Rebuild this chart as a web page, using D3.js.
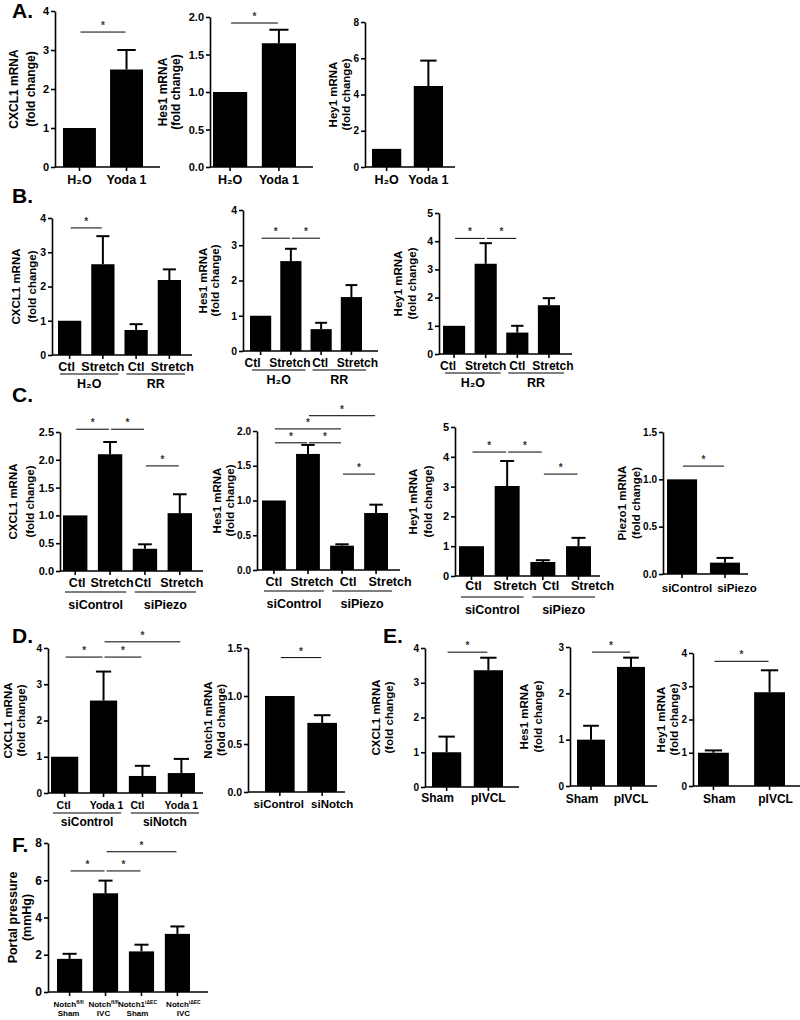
<!DOCTYPE html>
<html>
<head>
<meta charset="utf-8">
<script src="https://d3js.org/d3.v7.min.js"></script>
<style>
  body { margin: 0; background: #fff; }
  svg text { font-family: "Liberation Sans", Arial, sans-serif; font-weight: bold; }
</style>
</head>
<body>
<div id="fig"></div>
<script>
// ---- data (means and SEM) ----
const yodaCats = ["H₂O", "Yoda 1"];
const aCxcl1 = [1.0, 2.5],  aCxcl1Err = [0, 0.5];
const aHes1  = [1.0, 1.65], aHes1Err  = [0, 0.18];
const aHey1  = [1.0, 4.47], aHey1Err  = [0, 1.4];

const stretchCats = ["Ctl", "Stretch", "Ctl", "Stretch"];
const rrGroups = ["H₂O", "RR"];
const bCxcl1 = [1.0, 2.65, 0.73, 2.19], bCxcl1Err = [0, 0.82, 0.17, 0.31];
const bHes1  = [1.0, 2.55, 0.62, 1.53], bHes1Err  = [0, 0.35, 0.18, 0.34];
const bHey1  = [1.0, 3.2, 0.76, 1.73],  bHey1Err  = [0, 0.73, 0.24, 0.25];

const piezoGroups = ["siControl", "siPiezo"];
const cCxcl1 = [1.0, 2.1, 0.4, 1.04],  cCxcl1Err = [0, 0.22, 0.08, 0.34];
const cHes1  = [1.0, 1.67, 0.35, 0.82], cHes1Err = [0, 0.13, 0.02, 0.12];
const cHey1  = [1.0, 3.02, 0.47, 1.0],  cHey1Err = [0, 0.84, 0.06, 0.28];
const piezoCats = ["siControl", "siPiezo"];
const cPiezo1 = [1.0, 0.12], cPiezo1Err = [0, 0.05];

const notchCats = ["Ctl", "Yoda 1", "Ctl", "Yoda 1"];
const notchGroups = ["siControl", "siNotch"];
const dCxcl1 = [1.0, 2.55, 0.47, 0.55], dCxcl1Err = [0, 0.8, 0.28, 0.39];
const notchKdCats = ["siControl", "siNotch"];
const dNotch1 = [1.0, 0.72], dNotch1Err = [0, 0.08];

const ivcCats = ["Sham", "pIVCL"];
const eCxcl1 = [1.0, 3.36], eCxcl1Err = [0.45, 0.36];
const eHes1  = [1.0, 2.57], eHes1Err  = [0.3, 0.2];
const eHey1  = [1.0, 2.82], eHey1Err  = [0.07, 0.66];

const fNames = ["Notch", "Notch", "Notch1", "Notch"];
const fSups  = ["fl/fl", "fl/fl", "iΔEC", "iΔEC"];
const fConds = ["Sham", "IVC", "Sham", "IVC"];
const fPressure = [1.78, 5.3, 2.18, 3.12], fPressureErr = [0.27, 0.68, 0.36, 0.4];

// significance bars: [from bar, to bar, height in data units]
const sigA1 = [[0, 1, 3.46]];
const sigA2 = [[0, 1, 1.92]];
const sigB1 = [[0, 1, 3.71]];
const sigB2 = [[0, 1, 3.2], [1, 2, 3.2]];
const sigB3 = [[0, 1, 4.1], [1, 2, 4.1]];
const sigC1 = [[0, 1, 2.55], [1, 2, 2.55], [2, 3, 1.89]];
const sigC2 = [[1, 3, 2.22], [0, 2, 2.03], [0, 1, 1.83], [1, 2, 1.83], [2, 3, 1.38]];
const sigC3 = [[0, 1, 4.16], [1, 2, 4.16], [2, 3, 3.42]];
const sigC4 = [[0, 1, 1.14]];
const sigD1 = [[0, 1, 3.75], [1, 2, 3.75], [1, 3, 4.17]];
const sigD2 = [[0, 1, 1.4]];
const sigE1 = [[0, 1, 3.88]];
const sigE2 = [[0, 1, 2.89]];
const sigE3 = [[0, 1, 3.75]];
const sigF  = [[0, 1, 6.5], [1, 2, 6.5], [1, 3, 7.53]];

const W = 800, H = 1020;
const svg = d3.select("#fig").append("svg").attr("width", W).attr("height", H);

// panel letters
[["A.", 12, 18], ["B.", 12, 203], ["C.", 12, 402], ["D.", 12, 643], ["E.", 383, 643], ["F.", 12, 852]]
  .forEach(([t, x, y]) => svg.append("text").attr("x", x).attr("y", y).attr("font-size", 21).text(t));

function drawPanel(p) {
  const y = d3.scaleLinear().domain([0, p.max]).range([p.y0, p.yTop]);
  const x = d3.scaleBand().domain(d3.range(p.values.length)).range(p.bars).paddingInner(p.pad || 0.3);
  const bw = x.bandwidth();
  const cx = i => x(i) + bw / 2;
  const g = svg.append("g");

  // bars
  g.selectAll("rect").data(p.values).join("rect")
    .attr("x", (d, i) => x(i)).attr("y", d => y(d))
    .attr("width", bw).attr("height", d => p.y0 - y(d))
    .attr("fill", "#000");

  // upward error bars
  p.errors.forEach((e, i) => {
    if (!e) return;
    const top = y(p.values[i] + e);
    g.append("line").attr("x1", cx(i)).attr("x2", cx(i))
      .attr("y1", y(p.values[i])).attr("y2", top)
      .attr("stroke", "#000").attr("stroke-width", 2);
    g.append("line").attr("x1", cx(i) - bw * 0.28).attr("x2", cx(i) + bw * 0.28)
      .attr("y1", top).attr("y2", top)
      .attr("stroke", "#000").attr("stroke-width", 2);
  });

  // y axis
  const ya = g.append("g").attr("transform", `translate(${p.ax},0)`)
    .call(d3.axisLeft(y).tickValues(p.ticks).tickSize(4).tickSizeOuter(0).tickPadding(2)
      .tickFormat(d3.format(p.fmt || "d")));
  ya.selectAll("path, line").attr("stroke-width", 1.6);
  ya.selectAll("text").attr("font-size", p.tickFont || 10.5);

  // x axis: ticks under bars plus baseline
  const xa = g.append("g").attr("transform", `translate(0,${p.y0})`)
    .call(d3.axisBottom(x).tickSize(4).tickSizeOuter(0).tickFormat(() => ""));
  xa.select(".domain").remove();
  xa.selectAll("line").attr("stroke-width", 1.6);
  g.append("line").attr("x1", p.ax).attr("x2", p.xEnd).attr("y1", p.y0).attr("y2", p.y0)
    .attr("stroke", "#000").attr("stroke-width", 1.6);

  // category labels
  if (p.cats) {
    g.selectAll("text.cat").data(p.cats).join("text").attr("class", "cat")
      .attr("x", (d, i) => cx(i) + (p.labOff ? p.labOff[i] : 0))
      .attr("y", p.y0 + (p.labDy || 17))
      .attr("text-anchor", "middle").attr("font-size", p.labSize || 12.5)
      .text(d => d);
  }

  // group lines under pairs of bars
  if (p.groups) {
    p.groups.forEach((gname, k) => {
      const x1 = x(2 * k) + 2, x2 = x(2 * k + 1) + bw + 4;
      g.append("line").attr("x1", x1).attr("x2", x2)
        .attr("y1", p.y0 + p.grpLineDy).attr("y2", p.y0 + p.grpLineDy)
        .attr("stroke", "#000").attr("stroke-width", 1.2);
      g.append("text").attr("x", (x1 + x2) / 2).attr("y", p.y0 + p.grpDy)
        .attr("text-anchor", "middle").attr("font-size", p.grpSize || 12.5).text(gname);
    });
  }

  // axis title (two rotated lines)
  const midY = (p.y0 + p.yTop) / 2 + (p.titleDy || 0);
  p.title.forEach((t, k) => {
    g.append("text").attr("transform", `translate(${p.titleX[k]},${midY}) rotate(-90)`)
      .attr("text-anchor", "middle").attr("dominant-baseline", "central")
      .attr("font-size", p.titleSize || 11.5).text(t);
  });

  // significance bars
  (p.sig || []).forEach(([a, b, lvl]) => {
    const x1 = cx(a) + 1, x2 = cx(b) - 1, yy = y(lvl);
    g.append("line").attr("x1", x1).attr("x2", x2).attr("y1", yy).attr("y2", yy)
      .attr("stroke", "#000").attr("stroke-width", 1);
    g.append("text").attr("x", (x1 + x2) / 2).attr("y", yy - 3)
      .attr("text-anchor", "middle").attr("font-size", 10).attr("fill", "#333").text("*");
  });

  return { x, y, g, cx };
}

const fc = "(fold change)";

// row A
drawPanel({ values: aCxcl1, errors: aCxcl1Err, cats: yodaCats, max: 4, ticks: [0,1,2,3,4], tickFont: 11,
  ax: 55, xEnd: 160, bars: [63, 143], y0: 167, yTop: 11, title: ["CXCL1 mRNA", fc], titleX: [14, 31],
  titleSize: 12, sig: sigA1 });
drawPanel({ values: aHes1, errors: aHes1Err, cats: yodaCats, max: 2, ticks: [0,0.5,1,1.5,2], fmt: ".1f", tickFont: 11,
  ax: 210, xEnd: 313, bars: [213, 296], y0: 167, yTop: 17, title: ["Hes1 mRNA", fc], titleX: [163, 176],
  titleSize: 12, sig: sigA2 });
drawPanel({ values: aHey1, errors: aHey1Err, cats: yodaCats, max: 8, ticks: [0,2,4,6,8], tickFont: 10,
  ax: 365, xEnd: 455, bars: [372, 443], y0: 167, yTop: 22, title: ["Hey1 mRNA", fc], titleX: [333, 346] });

// row B
const bCommon = { cats: stretchCats, groups: rrGroups, labDy: 16, grpLineDy: 19, grpDy: 33, labSize: 12.5 };
drawPanel({ ...bCommon, values: bCxcl1, errors: bCxcl1Err, max: 4, ticks: [0,1,2,3,4], labOff: [-3, 0, 0, 3],
  ax: 52, xEnd: 192, bars: [58, 181], y0: 355, yTop: 218, title: ["CXCL1 mRNA", fc], titleX: [16, 32], sig: sigB1 });
drawPanel({ ...bCommon, values: bHes1, errors: bHes1Err, max: 4, ticks: [0,1,2,3,4], labOff: [-8, -1, -1, 6], labSize: 12,
  ax: 243, xEnd: 378, bars: [250, 362], y0: 351, yTop: 210, title: ["Hes1 mRNA", fc], titleX: [203, 215], sig: sigB2 });
drawPanel({ ...bCommon, values: bHey1, errors: bHey1Err, max: 5, ticks: [0,1,2,3,4,5], labOff: [-6, 0, 0, 4], labSize: 12,
  ax: 439, xEnd: 572, bars: [443, 560], y0: 354, yTop: 213, title: ["Hey1 mRNA", fc], titleX: [398, 412], sig: sigB3 });

// row C
const cCommon = { cats: stretchCats, groups: piezoGroups, labDy: 16, grpLineDy: 21, grpDy: 38 };
drawPanel({ ...cCommon, values: cCxcl1, errors: cCxcl1Err, max: 2.5, ticks: [0,0.5,1,1.5,2,2.5], fmt: ".1f",
  tickFont: 11, labOff: [2, 2, -2, 2],
  ax: 60, xEnd: 203, bars: [63, 192], y0: 571, yTop: 432, title: ["CXCL1 mRNA", fc], titleX: [13, 30], sig: sigC1 });
drawPanel({ ...cCommon, values: cHes1, errors: cHes1Err, max: 2, ticks: [0,0.5,1,1.5,2], fmt: ".1f",
  tickFont: 10, labOff: [0, 4, 6, 14],
  ax: 257, xEnd: 400, bars: [262, 388], y0: 570, yTop: 431, title: ["Hes1 mRNA", fc], titleX: [217, 230], sig: sigC2 });
drawPanel({ ...cCommon, values: cHey1, errors: cHey1Err, max: 5, ticks: [0,1,2,3,4,5], labDy: 14, tickFont: 11,
  labOff: [2, 8, 8, 14],
  ax: 455, xEnd: 600, bars: [459, 591], y0: 576, yTop: 427, title: ["Hey1 mRNA", fc], titleX: [413, 428], sig: sigC3 });
drawPanel({ values: cPiezo1, errors: cPiezo1Err, cats: piezoCats, max: 1.5, ticks: [0,0.5,1,1.5], fmt: ".1f",
  tickFont: 10, labDy: 18, labSize: 11.5, labOff: [5, 12],
  ax: 663, xEnd: 748, bars: [667, 740], y0: 574, yTop: 432, title: ["Piezo1 mRNA", fc], titleX: [622, 636], sig: sigC4 });

// row D
drawPanel({ values: dCxcl1, errors: dCxcl1Err, cats: notchCats, groups: notchGroups, max: 4, ticks: [0,1,2,3,4],
  tickFont: 10, labDy: 16, labSize: 10.5, labOff: [-1, 3, -5, 0], grpLineDy: 20, grpDy: 33, grpSize: 12,
  ax: 48, xEnd: 203, bars: [51, 195], y0: 793, yTop: 648, title: ["CXCL1 mRNA", fc], titleX: [8, 21], sig: sigD1 });
drawPanel({ values: dNotch1, errors: dNotch1Err, cats: notchKdCats, max: 1.5, ticks: [0,0.5,1,1.5], fmt: ".1f",
  tickFont: 10.5, labDy: 16, labSize: 11.5, labOff: [-1, 10],
  ax: 248, xEnd: 345, bars: [265, 337], y0: 792, yTop: 648, title: ["Notch1 mRNA", fc], titleX: [208, 221], sig: sigD2 });

// row E
drawPanel({ values: eCxcl1, errors: eCxcl1Err, cats: ivcCats, max: 4, ticks: [0,1,2,3,4], tickFont: 10,
  labDy: 15, labSize: 12, labOff: [-9, 0],
  ax: 425, xEnd: 519, bars: [432, 503], y0: 787, yTop: 648, title: ["CXCL1 mRNA", fc], titleX: [376, 389], sig: sigE1 });
drawPanel({ values: eHes1, errors: eHes1Err, cats: ivcCats, max: 3, ticks: [0,1,2,3], tickFont: 10,
  labDy: 17, labSize: 12, labOff: [-9, 0],
  ax: 570, xEnd: 657, bars: [577, 645], y0: 786, yTop: 647, title: ["Hes1 mRNA", fc], titleX: [524, 538], sig: sigE2 });
drawPanel({ values: eHey1, errors: eHey1Err, cats: ivcCats, max: 4, ticks: [0,1,2,3,4], tickFont: 10, pad: 0.45,
  labDy: 17, labSize: 12, labOff: [6, 6],
  ax: 693, xEnd: 800, bars: [698, 785], y0: 786, yTop: 653, title: ["Hey1 mRNA", fc], titleX: [661, 674], sig: sigE3 });

// row F: two-line labels with superscripts
const fOff = [-1, -2, -4, 6];
const fp = drawPanel({ values: fPressure, errors: fPressureErr, max: 8, ticks: [0,2,4,6,8], tickFont: 12,
  ax: 48, xEnd: 208, bars: [57, 190], y0: 992, yTop: 843,
  title: ["Portal pressure", "(mmHg)"], titleX: [13, 27], titleSize: 12.5, sig: sigF });
fNames.forEach((n, i) => {
  const t = fp.g.append("text").attr("x", fp.cx(i) + fOff[i]).attr("y", 1007)
    .attr("text-anchor", "middle").attr("font-size", 8);
  t.append("tspan").text(n);
  t.append("tspan").attr("font-size", 5).attr("dy", -3).text(fSups[i]);
  fp.g.append("text").attr("x", fp.cx(i) + fOff[i]).attr("y", 1016)
    .attr("text-anchor", "middle").attr("font-size", 8).text(fConds[i]);
});
</script>
</body>
</html>
